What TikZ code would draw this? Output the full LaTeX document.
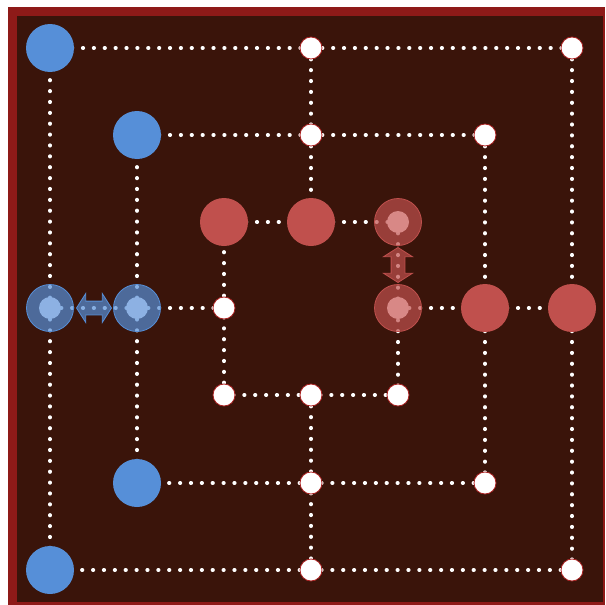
\documentclass[tikz,border=0pt]{standalone}
\usetikzlibrary{shapes.arrows}
\definecolor{boardred}{RGB}{142,26,24}
\definecolor{boarddark}{RGB}{58,20,10}
\definecolor{pieceblue}{RGB}{86,143,216}
\definecolor{coreblue}{RGB}{141,177,227}
\definecolor{piecered}{RGB}{192,80,77}
\definecolor{corered}{RGB}{216,136,134}
\definecolor{pointedge}{RGB}{170,30,30}
\begin{document}
\begin{tikzpicture}[x=1pt,y=-1pt,
  track/.style={draw=white, line width=3.8pt, line cap=round,
    dash pattern=on 0.4pt off 10.475pt, dash phase=-0.2pt},
  point/.style={circle, draw=pointedge, line width=0.8pt, fill=white,
    minimum size=22pt, inner sep=0pt},
  piece/.style={circle, minimum size=48pt, inner sep=0pt},
  ghost/.style={circle, minimum size=47pt, inner sep=0pt,
    fill opacity=0.7, line width=0.8pt},
  core/.style={circle, minimum size=22pt, inner sep=0pt},
  swap/.style={double arrow, minimum height=35pt, minimum width=28pt,
    double arrow head extend=7.5pt, double arrow tip angle=115,
    inner xsep=0pt, inner ysep=6.5pt, fill opacity=0.7, line width=0.8pt}
  ]
  \useasboundingbox (0,0) rectangle (605,605);
  \fill[white] (0,0) rectangle (605,605);
  \fill[boardred] (8,7) rectangle (605,605);
  \fill[boarddark] (17,16) rectangle (603,602);
  % points of the board
  \foreach \n/\x/\y in {a7/50/48, d7/311/48, g7/572/48,
      b6/137/135, d6/311/135, f6/485/135,
      c5/224/222, d5/311/222, e5/398/222,
      a4/50/308, b4/137/308, c4/224/308, e4/398/308, f4/485/308, g4/572/308,
      c3/224/395, d3/311/395, e3/398/395,
      b2/137/483, d2/311/483, f2/485/483,
      a1/50/570, d1/311/570, g1/572/570}
    \coordinate (\n) at (\x,\y);
  % dotted lines
  \draw[track] (a7) -- (g7) -- (g1) -- (a1) -- cycle;
  \draw[track] (b6) -- (f6) -- (f2) -- (b2) -- cycle;
  \draw[track] (c5) -- (e5) -- (e3) -- (c3) -- cycle;
  \draw[track] (d7) -- (d5);
  \draw[track] (d3) -- (d1);
  \draw[track] (a4) -- (c4);
  \draw[track] (e4) -- (g4);
  % free points
  \foreach \n in {d7,g7,d6,f6,c4,c3,d3,e3,d2,f2,d1,g1}
    \node[point] (p\n) at (\n) {};
  % blue men
  \foreach \n in {a7,b6,b2,a1}
    \node[piece, fill=pieceblue] (m\n) at (\n) {};
  \foreach \n in {a4,b4}{
    \node[ghost, fill=pieceblue, draw=pieceblue] (m\n) at (\n) {};
    \node[core, fill=coreblue] (c\n) at (\n) {};
  }
  \node[swap, fill=pieceblue, draw=pieceblue] (swapblue) at (94,308) {};
  % red men
  \foreach \n in {c5,d5,f4,g4}
    \node[piece, fill=piecered] (m\n) at (\n) {};
  \foreach \n in {e5,e4}{
    \node[ghost, fill=piecered, draw=piecered] (m\n) at (\n) {};
    \node[core, fill=corered] (c\n) at (\n) {};
  }
  \node[swap, rotate=90, fill=piecered, draw=piecered] (swapred) at (398,265) {};
\end{tikzpicture}
\end{document}
